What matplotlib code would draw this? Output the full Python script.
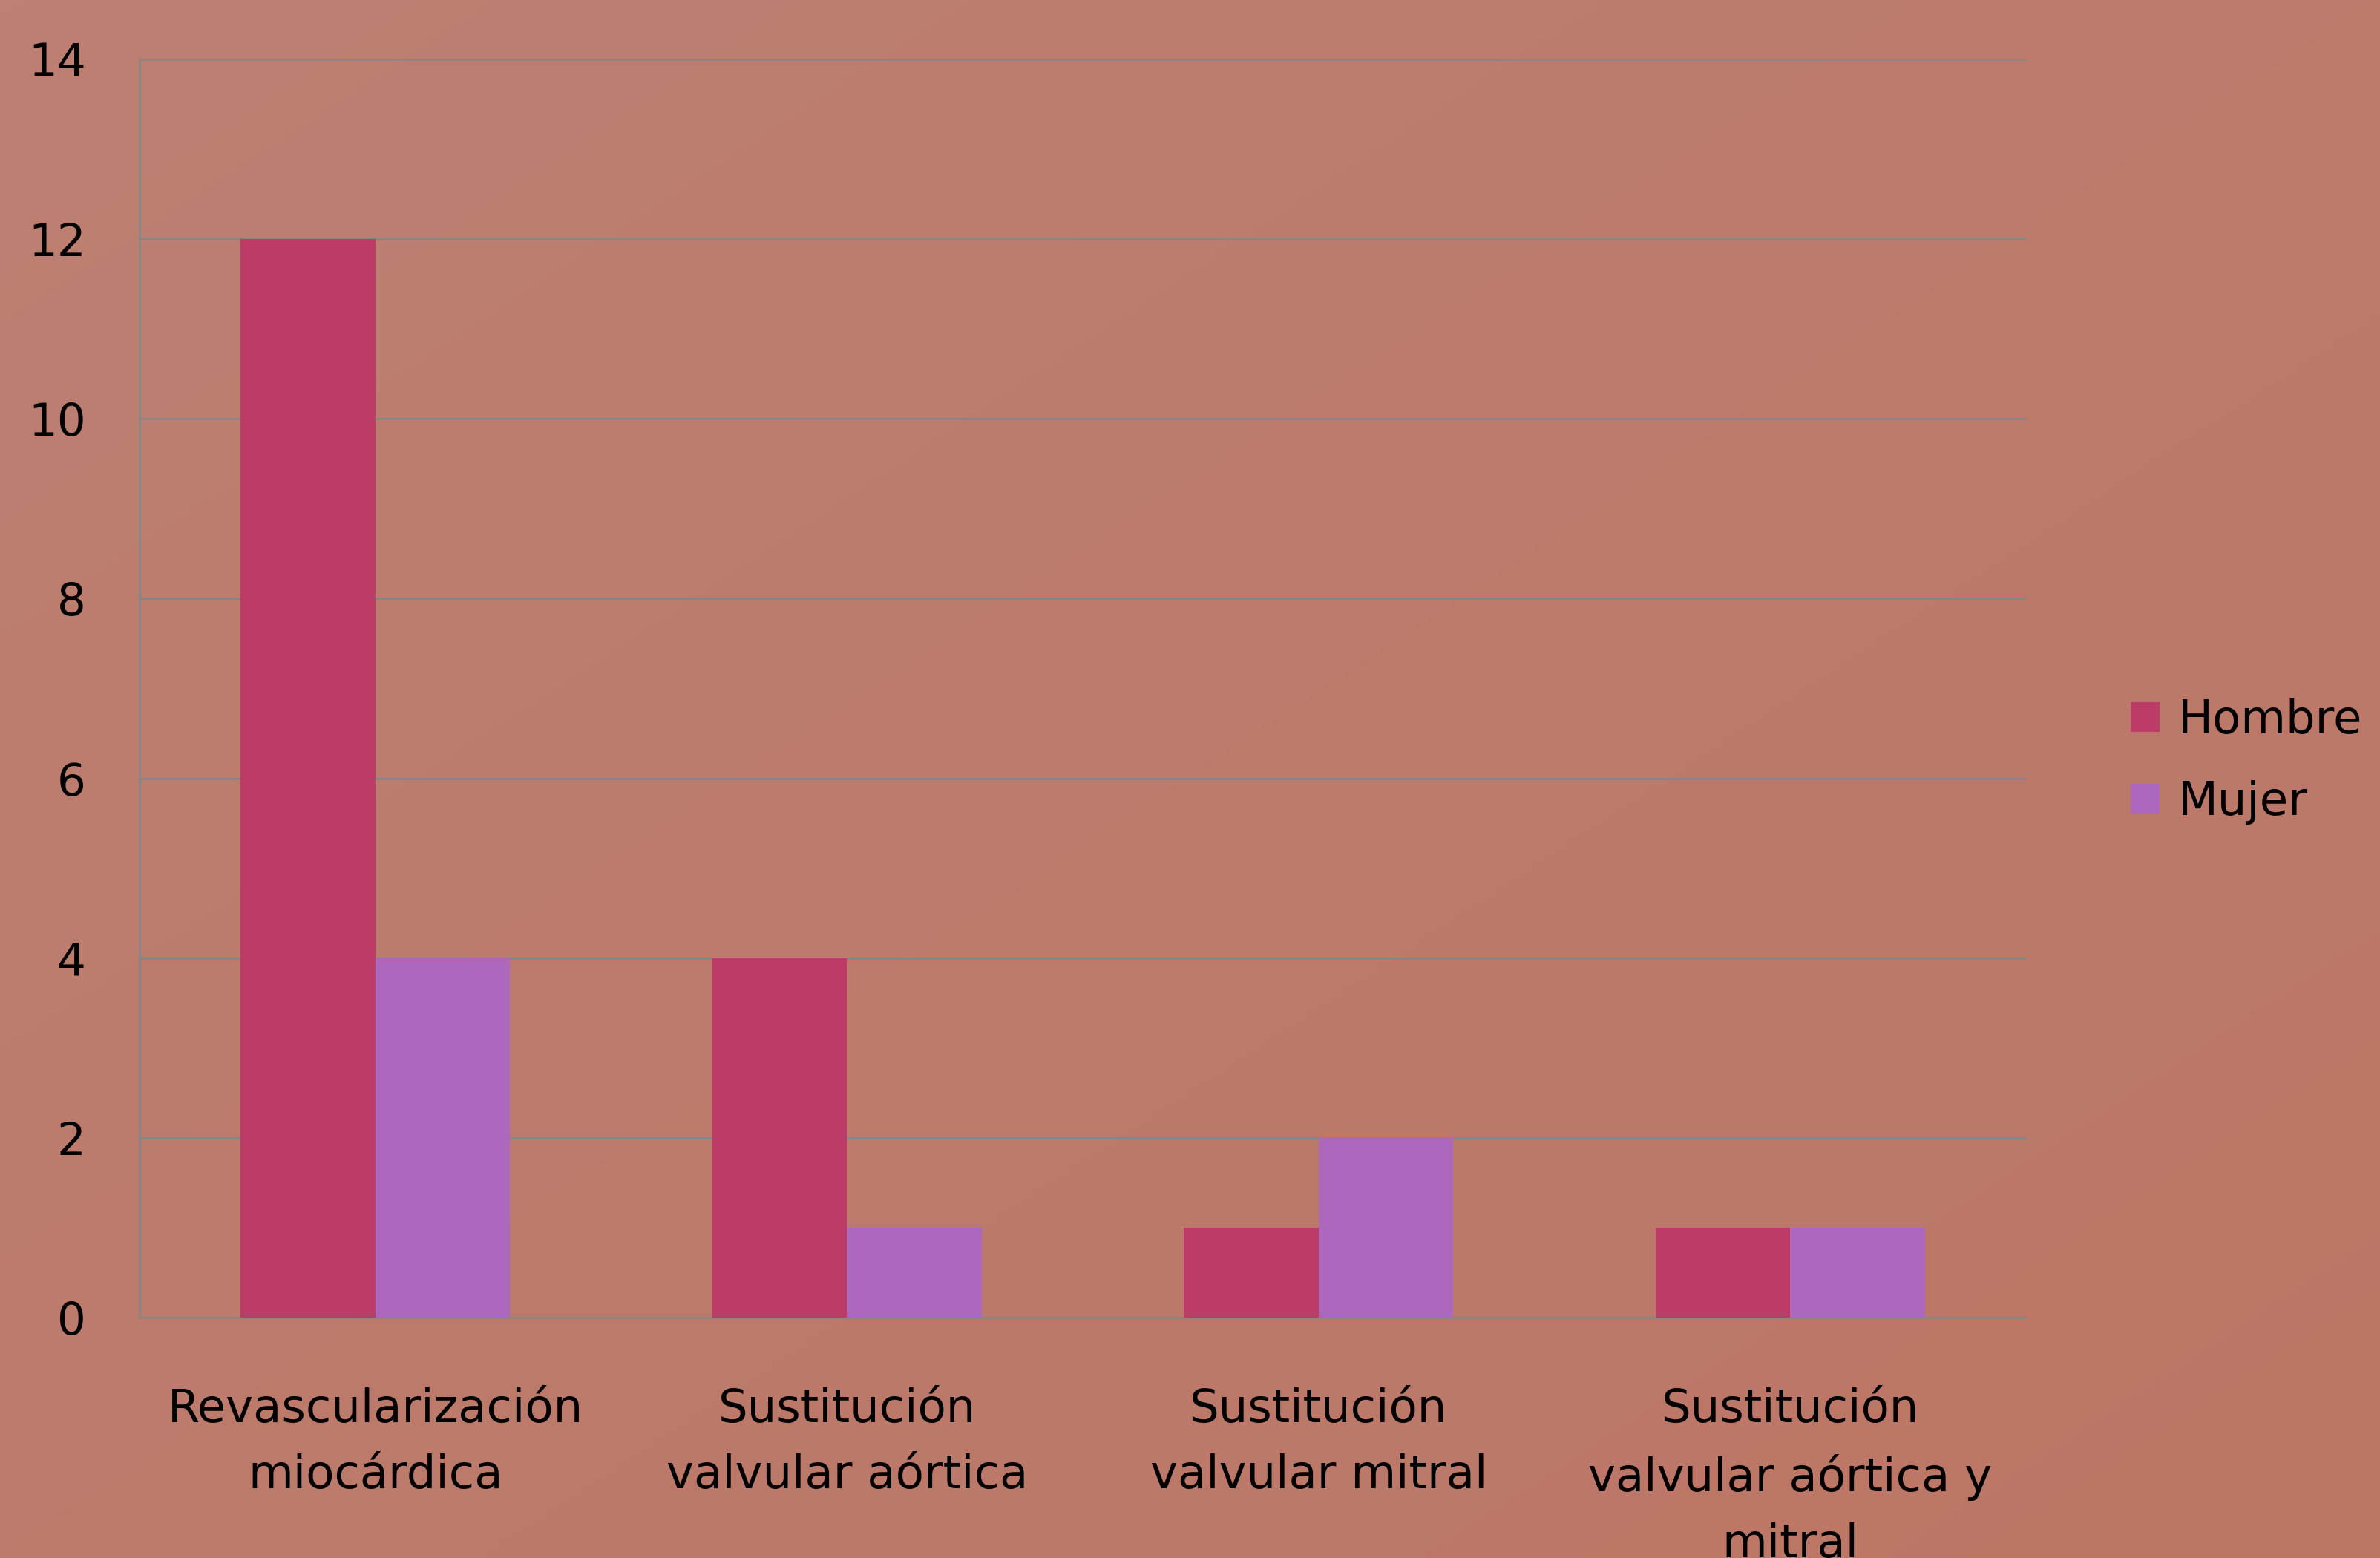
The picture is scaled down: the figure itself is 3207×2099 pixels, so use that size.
import numpy as np
import matplotlib
matplotlib.use('Agg')
import matplotlib.pyplot as plt
from matplotlib.colors import LinearSegmentedColormap

categories = ['Revascularización\nmiocárdica',
              'Sustitución\nvalvular aórtica',
              'Sustitución\nvalvular mitral',
              'Sustitución\nvalvular aórtica y\nmitral']
hombre = [12, 4, 1, 1]
mujer = [4, 1, 2, 1]
yticks = [0, 2, 4, 6, 8, 10, 12, 14]

plt.rcParams['font.family'] = ['DejaVu Sans']

fig = plt.figure(figsize=(32.07, 20.99), dpi=100)

# background with a soft diagonal gradient
bg = fig.add_axes([0, 0, 1, 1], zorder=-10)
cmap = LinearSegmentedColormap.from_list('bg', ['#BD8072', '#BC7666'])
gx, gy = np.meshgrid(np.linspace(0, 1, 200), np.linspace(0, 1, 200))
bg.imshow((gx + gy) / 2, cmap=cmap, aspect='auto', extent=[0, 1, 0, 1], origin='upper')
bg.axis('off')

ax = fig.add_axes([0.0586, 0.1544, 0.7927, 0.8075])
ax.patch.set_alpha(0)

x = np.arange(len(categories))
w = 1 / 3.5
ax.bar(x - w / 2, hombre, w, color='#BA3C67', label='Hombre', zorder=3)
ax.bar(x + w / 2, mujer, w, color='#AC68BD', label='Mujer', zorder=3)

ax.set_xlim(-0.5, len(categories) - 0.5)
ax.set_ylim(0, 14)
ax.set_yticks(yticks)
ax.yaxis.grid(True, color='#868686', linewidth=2, zorder=0)
ax.set_axisbelow(True)

for s in ['top', 'right']:
    ax.spines[s].set_visible(False)
for s in ['left', 'bottom']:
    ax.spines[s].set_color('#868686')
    ax.spines[s].set_linewidth(2)

ax.set_xticks(x)
ax.set_xticklabels(categories, fontsize=45, linespacing=1.6)
ax.tick_params(axis='x', length=0, pad=68)
ax.tick_params(axis='y', length=0, pad=52, labelsize=44)

fig.legend(loc='center left', bbox_to_anchor=(2871 / 3207, 1 - 1026 / 2099),
           frameon=False, fontsize=45, handlelength=0.62, handleheight=0.62,
           handletextpad=0.4, labelspacing=0.8, borderpad=0, borderaxespad=0)

fig.savefig('out.png', dpi=100)
